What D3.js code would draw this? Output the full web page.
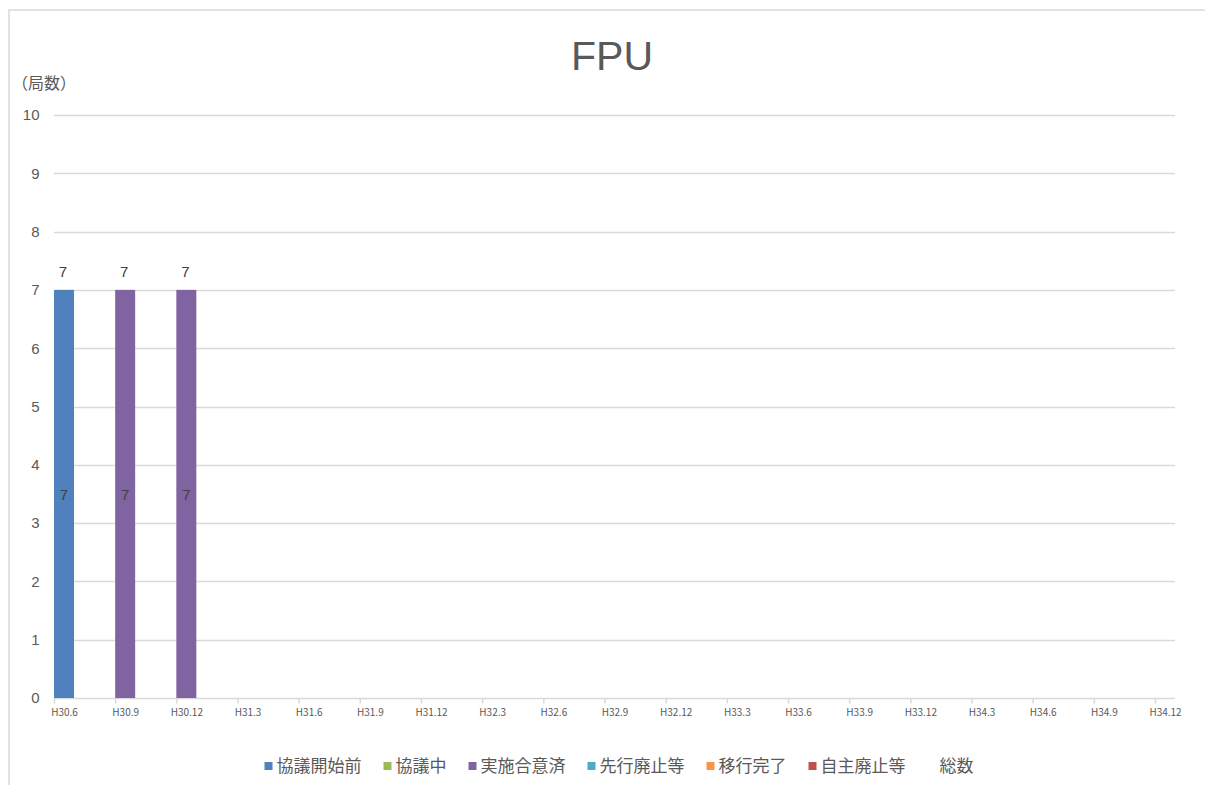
<!DOCTYPE html>
<html>
<head>
<meta charset="utf-8">
<script src="https://cdn.jsdelivr.net/npm/d3@7"></script>
<style>
  body { margin: 0; background: #fff; }
  text { font-family: "Noto Sans CJK JP", "Noto Sans", sans-serif; }
</style>
</head>
<body>
<div id="chart"></div>
<script>
// chart data
var categories = ["H30.6", "H30.9", "H30.12", "H31.3", "H31.6", "H31.9", "H31.12",
  "H32.3", "H32.6", "H32.9", "H32.12", "H33.3", "H33.6", "H33.9", "H33.12",
  "H34.3", "H34.6", "H34.9", "H34.12"];
var seriesNames = ["協議開始前", "協議中", "実施合意済", "先行廃止等", "移行完了", "自主廃止等"];
var seriesColors = ["#4F81BD", "#9BBB59", "#8064A2", "#4BACC6", "#F79646", "#C0504D"];
var beforeTalks = [7, 0, 0, 0, 0, 0, 0, 0, 0, 0, 0, 0, 0, 0, 0, 0, 0, 0, 0];
var inTalks     = [0, 0, 0, 0, 0, 0, 0, 0, 0, 0, 0, 0, 0, 0, 0, 0, 0, 0, 0];
var agreed      = [0, 7, 7, 0, 0, 0, 0, 0, 0, 0, 0, 0, 0, 0, 0, 0, 0, 0, 0];
var earlyClosed = [0, 0, 0, 0, 0, 0, 0, 0, 0, 0, 0, 0, 0, 0, 0, 0, 0, 0, 0];
var migrated    = [0, 0, 0, 0, 0, 0, 0, 0, 0, 0, 0, 0, 0, 0, 0, 0, 0, 0, 0];
var selfClosed  = [0, 0, 0, 0, 0, 0, 0, 0, 0, 0, 0, 0, 0, 0, 0, 0, 0, 0, 0];
var totals      = [7, 7, 7, null, null, null, null, null, null, null, null, null, null, null, null, null, null, null, null];
var yTicks = [0, 1, 2, 3, 4, 5, 6, 7, 8, 9, 10];

var seriesValues = [beforeTalks, inTalks, agreed, earlyClosed, migrated, selfClosed];

var svgWidth = 1205;
var svgHeight = 785;

var svg = d3.select("#chart")
  .append("svg")
  .attr("width", svgWidth)
  .attr("height", svgHeight);

// outer frame
svg.append("path")
  .attr("d", "M9,785 L9,10 L1205,10")
  .attr("fill", "none")
  .attr("stroke", "#d9d9d9")
  .attr("stroke-width", 1.5);

// plot area
var plotLeft = 54, plotRight = 1175, plotTop = 115, plotBottom = 698;
var barWidth = 20;

var xScale = d3.scalePoint()
  .domain(categories)
  .range([plotLeft, plotRight - barWidth]);

var yScale = d3.scaleLinear()
  .domain([0, 10])
  .range([plotBottom, plotTop]);

// title
svg.append("text")
  .attr("x", 612)
  .attr("y", 70)
  .attr("text-anchor", "middle")
  .attr("font-size", "41px")
  .attr("fill", "#595959")
  .style("font-family", "'Liberation Sans', Arial, sans-serif")
  .text("FPU");

// y unit label
svg.append("text")
  .attr("x", 12)
  .attr("y", 89)
  .attr("font-size", "16px")
  .attr("fill", "#595959")
  .text("（局数）");

// gridlines
svg.append("g")
  .selectAll("line")
  .data(yTicks)
  .enter()
  .append("line")
  .attr("x1", plotLeft)
  .attr("x2", plotRight)
  .attr("y1", d => Math.round(yScale(d)) + 0.5)
  .attr("y2", d => Math.round(yScale(d)) + 0.5)
  .attr("stroke", "#d9d9d9")
  .attr("stroke-width", 1.5);

// y axis labels
var yAxis = d3.axisLeft(yScale).tickValues(yTicks).tickSize(0).tickPadding(0);
var yAxisG = svg.append("g")
  .attr("transform", "translate(39.5,0)")
  .call(yAxis);
yAxisG.select(".domain").remove();
yAxisG.selectAll("text")
  .attr("font-size", "15px")
  .attr("fill", "#595959")
  .style("font-family", "'Liberation Sans', Arial, sans-serif");

// x axis ticks + labels
var xAxis = d3.axisBottom(xScale).tickSize(5).tickPadding(5);
var xAxisG = svg.append("g")
  .attr("transform", `translate(0, ${plotBottom + 0.5})`)
  .call(xAxis);
xAxisG.select(".domain").remove();
xAxisG.selectAll("line").attr("stroke", "#d9d9d9").attr("stroke-width", 1.5);
xAxisG.selectAll("text")
  .attr("x", barWidth / 2)
  .attr("font-size", "10px")
  .attr("fill", "#595959");

// stacked bars
var rows = categories.map(function(c, i) {
  var row = { cat: c };
  seriesNames.forEach(function(s, j) { row[s] = seriesValues[j][i]; });
  return row;
});
var stack = d3.stack().keys(seriesNames)(rows);

var barGroups = svg.append("g")
  .selectAll("g")
  .data(stack)
  .enter()
  .append("g")
  .attr("fill", (d, i) => seriesColors[i]);

barGroups.selectAll("rect")
  .data(d => d.filter(p => p[1] - p[0] > 0))
  .enter()
  .append("rect")
  .attr("x", d => xScale(d.data.cat))
  .attr("width", barWidth)
  .attr("y", d => yScale(d[1]))
  .attr("height", d => yScale(d[0]) - yScale(d[1]));

// value labels inside the bars
barGroups.selectAll("text")
  .data(d => d.filter(p => p[1] - p[0] > 0))
  .enter()
  .append("text")
  .attr("x", d => xScale(d.data.cat) + barWidth / 2)
  .attr("y", d => yScale((d[0] + d[1]) / 2) + 6)
  .attr("text-anchor", "middle")
  .attr("font-size", "15px")
  .attr("fill", "#404040")
  .style("font-family", "'Liberation Sans', Arial, sans-serif")
  .text(d => d[1] - d[0]);

// total labels above bars
svg.append("g")
  .selectAll("text")
  .data(categories.map((c, i) => ({ cat: c, v: totals[i] })).filter(d => d.v !== null))
  .enter()
  .append("text")
  .attr("x", d => xScale(d.cat) + barWidth / 2 - 1)
  .attr("y", d => yScale(d.v) - 13)
  .attr("text-anchor", "middle")
  .attr("font-size", "15px")
  .attr("fill", "#404040")
  .style("font-family", "'Liberation Sans', Arial, sans-serif")
  .text(d => d.v);

// legend
var legendItems = seriesNames.map((s, i) => ({ name: s, color: seriesColors[i] }))
  .concat([{ name: "総数", color: "none" }]);
var legend = svg.append("g");
var lx = 0;
legendItems.forEach(function(item) {
  var g = legend.append("g").attr("transform", `translate(${lx},0)`);
  g.append("rect")
    .attr("x", 0).attr("y", -4)
    .attr("width", 8).attr("height", 8)
    .attr("fill", item.color);
  var t = g.append("text")
    .attr("x", 12)
    .attr("y", 6)
    .attr("font-size", "17px")
    .attr("fill", "#595959")
    .text(item.name);
  lx += 12 + t.node().getComputedTextLength() + 22;
});
var legendWidth = lx - 22;
legend.attr("transform", `translate(${619 - legendWidth / 2}, 766)`);
</script>
</body>
</html>
